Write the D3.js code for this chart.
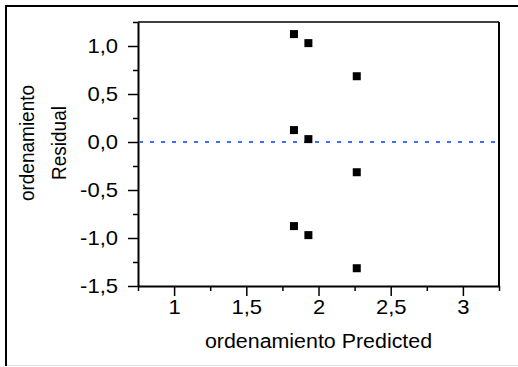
<!DOCTYPE html>
<html>
<head>
<meta charset="utf-8">
<script src="https://cdn.jsdelivr.net/npm/d3@7"></script>
<style>
  body { margin: 0; background: #fff; }
  svg text { font-family: "Liberation Sans", Arial, sans-serif; fill: #000; }
</style>
</head>
<body>
<div id="chart"></div>
<script>
// data
const predicted = [1.83, 1.93, 2.265, 1.83, 1.93, 2.265, 1.83, 1.93, 2.265];
const residual = [1.124, 1.03, 0.685, 0.124, 0.03, -0.315, -0.876, -0.97, -1.315];
const xTicks = [1, 1.5, 2, 2.5, 3];
const yTicks = [1.0, 0.5, 0.0, -0.5, -1.0, -1.5];
const xLabel = "ordenamiento Predicted";
const yLabels = ["ordenamiento", "Residual"];

const width = 518, height = 367;
const margin = { top: 22, right: 19, bottom: 81, left: 138 };
const stretch = 1.1; // text in the picture is a bit wider than plain Arial

const svg = d3.select("#chart").append("svg")
  .attr("width", width).attr("height", height);

// outer frame
svg.append("line").attr("x1", 6).attr("x2", 6).attr("y1", 6).attr("y2", 366)
  .attr("stroke", "#000").attr("stroke-width", 2);
svg.append("line").attr("x1", 5).attr("x2", 518).attr("y1", 6).attr("y2", 6)
  .attr("stroke", "#000").attr("stroke-width", 2);
svg.append("line").attr("x1", 7).attr("x2", 518).attr("y1", 365.5).attr("y2", 365.5)
  .attr("stroke", "#ddd").attr("stroke-width", 1);

// scales
const x = d3.scaleLinear().domain([0.75, 3.25]).range([margin.left, width - margin.right]);
const y = d3.scaleLinear().domain([-1.5, 1.25]).range([height - margin.bottom, margin.top]);

// minor ticks
const xMinor = d3.range(0.75, 3.26, 0.25).filter(v => !xTicks.some(t => Math.abs(t - v) < 1e-6));
const yMinor = d3.range(-1.5, 1.26, 0.25).filter(v => !yTicks.some(t => Math.abs(t - v) < 1e-6));

const xAxis = svg.append("g")
  .attr("transform", `translate(0,${y(-1.5)})`)
  .call(d3.axisBottom(x).tickValues(xTicks).tickSize(10).tickSizeOuter(0)
    .tickFormat(d => String(d).replace(".", ",")));
svg.append("g")
  .attr("transform", `translate(0,${y(-1.5)})`)
  .call(d3.axisBottom(x).tickValues(xMinor).tickSize(5).tickSizeOuter(0).tickFormat(""))
  .select(".domain").remove();

const yAxis = svg.append("g")
  .attr("transform", `translate(${x(0.75)},0)`)
  .call(d3.axisLeft(y).tickValues(yTicks).tickSize(10).tickSizeOuter(0)
    .tickFormat(d => d3.format(".1f")(d).replace(".", ",").replace("−", "-")));
svg.append("g")
  .attr("transform", `translate(${x(0.75)},0)`)
  .call(d3.axisLeft(y).tickValues(yMinor).tickSize(5).tickSizeOuter(0).tickFormat(""))
  .select(".domain").remove();

svg.selectAll(".tick line").attr("stroke", "#000").attr("stroke-width", 1.5);
svg.selectAll(".domain").attr("stroke", "#000").attr("stroke-width", 2);
xAxis.selectAll("text").attr("font-size", 20).attr("dy", "0.71em").attr("y", 0)
  .attr("transform", `translate(0,14) scale(${stretch},1)`);
yAxis.selectAll("text").attr("font-size", 20).attr("x", 0)
  .attr("transform", `translate(-20,0) scale(${stretch},1)`);

// frame top + right
svg.append("line").attr("x1", x(0.75)).attr("x2", x(3.25)).attr("y1", y(1.25)).attr("y2", y(1.25))
  .attr("stroke", "#000").attr("stroke-width", 1.5);
svg.append("line").attr("x1", x(3.25)).attr("x2", x(3.25)).attr("y1", y(1.25)).attr("y2", y(-1.5))
  .attr("stroke", "#000").attr("stroke-width", 2);

// zero line
svg.append("line")
  .attr("x1", x(0.75) + 1).attr("x2", x(3.25) - 1)
  .attr("y1", y(0)).attr("y2", y(0))
  .attr("stroke", "#3d6ef5").attr("stroke-width", 2)
  .attr("stroke-dasharray", "4,7");

// points
const sz = 8;
svg.append("g").selectAll("rect")
  .data(predicted)
  .join("rect")
  .attr("x", d => x(d) - sz / 2)
  .attr("y", (d, i) => y(residual[i]) - sz / 2)
  .attr("width", sz).attr("height", sz)
  .attr("fill", "#000");

// labels
svg.append("text")
  .attr("transform", `translate(${(x(0.75) + x(3.25)) / 2},348) scale(1.07,1)`)
  .attr("text-anchor", "middle").attr("font-size", 20)
  .text(xLabel);

svg.selectAll(".ylab")
  .data(yLabels)
  .join("text")
  .attr("class", "ylab")
  .attr("transform", (d, i) => `translate(${i === 0 ? 34 : 66},143) rotate(-90) scale(1,${stretch})`)
  .attr("text-anchor", "middle").attr("font-size", 19)
  .text(d => d);
</script>
</body>
</html>
